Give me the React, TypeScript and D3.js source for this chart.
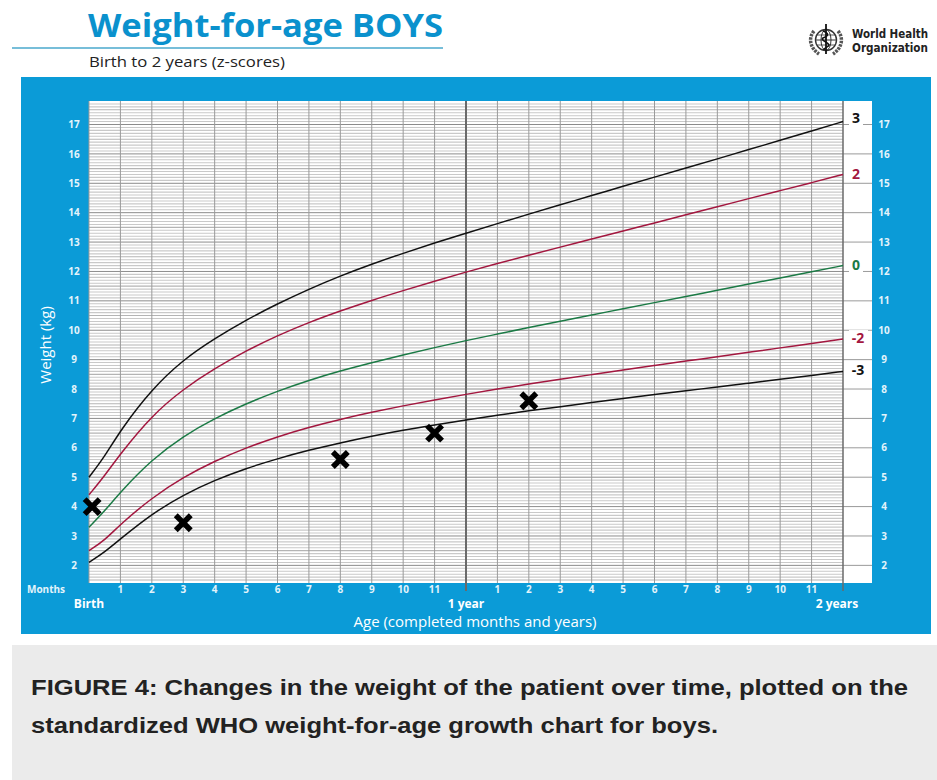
import React from 'react';
import * as d3 from 'd3';

// WHO weight-for-age, boys, birth to 2 years (kg)
const ages = [0, 0.5, 1, 2, 3, 4, 5, 6, 7, 8, 9, 10, 11, 12, 13, 14, 15, 16, 17, 18, 19, 20, 21, 22, 23, 24];
const zNeg3 = [2.1, 2.45, 2.9, 3.75, 4.4, 4.9, 5.3, 5.63, 5.92, 6.17, 6.4, 6.6, 6.78, 6.95, 7.11, 7.26, 7.4, 7.54, 7.68, 7.81, 7.94, 8.07, 8.2, 8.33, 8.46, 8.6];
const zNeg2 = [2.5, 2.85, 3.4, 4.3, 5.0, 5.55, 6.0, 6.38, 6.7, 6.97, 7.21, 7.43, 7.63, 7.82, 8.0, 8.17, 8.33, 8.49, 8.65, 8.8, 8.95, 9.1, 9.25, 9.4, 9.55, 9.7];
const zZero = [3.3, 3.85, 4.5, 5.6, 6.4, 7.0, 7.5, 7.93, 8.3, 8.62, 8.9, 9.16, 9.41, 9.65, 9.87, 10.09, 10.31, 10.52, 10.73, 10.94, 11.15, 11.36, 11.57, 11.78, 11.99, 12.2];
const zPos2 = [4.4, 5.05, 5.8, 7.1, 8.0, 8.7, 9.3, 9.82, 10.27, 10.66, 11.02, 11.35, 11.67, 11.98, 12.27, 12.55, 12.83, 13.1, 13.38, 13.65, 13.93, 14.2, 14.48, 14.75, 15.02, 15.3];
const zPos3 = [5.0, 5.7, 6.6, 8.0, 9.0, 9.72, 10.35, 10.9, 11.4, 11.85, 12.25, 12.62, 12.97, 13.3, 13.63, 13.95, 14.27, 14.58, 14.9, 15.21, 15.52, 15.83, 16.15, 16.46, 16.78, 17.1];

// patient measurements
const patientMonths = [0.1, 3, 8, 11, 14];
const patientWeights = [4.0, 3.45, 5.6, 6.5, 7.6];

const weightTicks = [2, 3, 4, 5, 6, 7, 8, 9, 10, 11, 12, 13, 14, 15, 16, 17];
const monthTicks = [1, 2, 3, 4, 5, 6, 7, 8, 9, 10, 11];

const BLUE = '#0b9bd7';
const RED = '#a3173f';
const GREEN = '#1b7a45';
const FONT = "'Open Sans', 'Noto Sans', sans-serif";

const curves = [
  { label: '3', values: zPos3, color: '#111' },
  { label: '2', values: zPos2, color: RED },
  { label: '0', values: zZero, color: GREEN },
  { label: '-2', values: zNeg2, color: RED },
  { label: '-3', values: zNeg3, color: '#111' },
];

export default function App() {
  const left = 89, right = 843, top = 101, bottom = 583;
  const labelRight = 872;

  const x = d3.scaleLinear().domain([0, 24]).range([left, right]);
  const y = d3.scaleLinear().domain([1.4, 17.8]).range([bottom, top]);

  const line = d3.line<number>()
    .x((_, i) => x(ages[i]))
    .y(d => y(d))
    .curve(d3.curveBasis);

  const minor = d3.range(15, 178).map(v => v / 10).filter(v => v > 1.4 && v < 17.8);
  const months = d3.range(0, 25);

  const cross = (cx: number, cy: number, i: number) => {
    const s = 7.5;
    return (
      <g key={i} stroke="#000" strokeWidth={5.5}>
        <line x1={cx - s} y1={cy - s} x2={cx + s} y2={cy + s} />
        <line x1={cx - s} y1={cy + s} x2={cx + s} y2={cy - s} />
      </g>
    );
  };

  return (
    <svg width={937} height={780} style={{ position: 'absolute', left: 0, top: 0, display: 'block', background: '#fff' }}>
      {/* header */}
      <text x={88} y={37} fontFamily={FONT} fontWeight={700} fontSize={33} fill="#0a91cd"
        textLength={355} lengthAdjust="spacingAndGlyphs">Weight-for-age BOYS</text>
      <line x1={12} x2={443} y1={48} y2={48} stroke="#4aa8cc" strokeWidth={1.5} />
      <text x={89} y={67} fontFamily={FONT} fontSize={15} fill="#222"
        textLength={196} lengthAdjust="spacingAndGlyphs">Birth to 2 years (z-scores)</text>

      {/* WHO logo */}
      <g transform="translate(826,40)" stroke="#333" fill="none">
        <circle r={10.5} strokeWidth={1.4} />
        <ellipse rx={5} ry={10.5} strokeWidth={1} />
        <line x1={-10.5} x2={10.5} y1={0} y2={0} strokeWidth={1} />
        <line x1={-9} x2={9} y1={-5} y2={-5} strokeWidth={0.8} />
        <line x1={-9} x2={9} y1={5} y2={5} strokeWidth={0.8} />
        <line x1={0} x2={0} y1={-16} y2={14} strokeWidth={1.8} stroke="#111" />
        <path d="M-3,-9 C3,-7 3,-4 -3,-2 C-6,0 3,3 3,5 C3,7 -3,8 -2,10" strokeWidth={1.6} stroke="#111" />
        <path d="M-12,-9 C-18,-2 -16,8 -7,14" strokeWidth={3.5} stroke="#555" strokeDasharray="2.5,1" />
        <path d="M12,-9 C18,-2 16,8 7,14" strokeWidth={3.5} stroke="#555" strokeDasharray="2.5,1" />
      </g>
      <text x={852} y={37.5} fontFamily="'DejaVu Sans Condensed', 'DejaVu Sans', sans-serif" fontWeight={700} fontSize={12} fill="#222"
        textLength={76} lengthAdjust="spacingAndGlyphs">World Health</text>
      <text x={852} y={52} fontFamily="'DejaVu Sans Condensed', 'DejaVu Sans', sans-serif" fontWeight={700} fontSize={12} fill="#222"
        textLength={76} lengthAdjust="spacingAndGlyphs">Organization</text>

      {/* blue panel */}
      <rect x={21} y={77} width={910} height={557} fill={BLUE} />
      <rect x={left} y={top} width={labelRight - left} height={bottom - top} fill="#fff" />

      {/* horizontal grid */}
      {minor.map(v => {
        const isKg = Math.abs(v - Math.round(v)) < 1e-6;
        const isHalf = Math.abs(v * 2 - Math.round(v * 2)) < 1e-6;
        return (
          <line key={'h' + v} x1={left} x2={right} y1={y(v)} y2={y(v)}
            stroke={isKg ? '#8c8c8c' : isHalf ? '#b4b4b4' : '#c9c9c9'} strokeWidth={isKg ? 1 : 1.1} />
        );
      })}
      {weightTicks.map(v => (
        <line key={'r' + v} x1={right} x2={labelRight} y1={y(v)} y2={y(v)} stroke="#9a9a9a" strokeWidth={1} />
      ))}

      {/* vertical grid */}
      {months.map(m => (
        <line key={'v' + m} x1={x(m)} x2={x(m)} y1={top} y2={m === 12 || m === 24 ? bottom + 8 : bottom}
          stroke={m === 12 || m === 24 ? '#6a6a6a' : '#9a9a9a'} strokeWidth={m === 12 ? 2 : m === 24 ? 1.5 : 1} />
      ))}

      {/* z-score curves */}
      {curves.map(c => (
        <path key={c.label} d={line(c.values) || ''} fill="none" stroke={c.color} strokeWidth={1.5} />
      ))}

      {/* curve labels */}
      {curves.map(c => {
        const ly = y(c.values[c.values.length - 1]) - (c.label === '3' ? 4 : 1);
        return (
          <g key={'l' + c.label}>
            <rect x={849} y={ly - 8} width={c.label.length > 1 ? 19 : 14} height={16} fill="#fff" />
            <text x={c.label.length > 1 ? 858 : 856} y={ly} dy="0.36em" textAnchor="middle" fontFamily={FONT}
              fontWeight={700} fontSize={14} fill={c.color}>{c.label}</text>
          </g>
        );
      })}

      {/* y tick labels */}
      {weightTicks.map(v => (
        <g key={'t' + v} fontFamily={FONT} fontWeight={700} fontSize={10} fill="#e3f4fb" textAnchor="middle">
          <text x={74} y={y(v)} dy="0.36em">{v}</text>
          <text x={884} y={y(v)} dy="0.36em">{v}</text>
        </g>
      ))}

      {/* x tick labels */}
      <text x={27} y={593} fontFamily={FONT} fontWeight={700} fontSize={10} fill="#e3f4fb">Months</text>
      {monthTicks.map(m => (
        <g key={'m' + m} fontFamily={FONT} fontWeight={700} fontSize={10} fill="#e3f4fb" textAnchor="middle">
          <text x={x(m)} y={593}>{m}</text>
          <text x={x(m + 12)} y={593}>{m}</text>
        </g>
      ))}
      <g fontFamily={FONT} fontWeight={700} fontSize={12} fill="#fff" textAnchor="middle">
        <text x={x(0)} y={608}>Birth</text>
        <text x={x(12)} y={608}>1 year</text>
        <text x={x(24) - 6} y={608}>2 years</text>
      </g>
      <text x={475} y={627} textAnchor="middle" fontFamily={FONT} fontSize={15} fill="#fff">
        Age (completed months and years)
      </text>
      <text transform={`translate(51,${y(9.5)}) rotate(-90)`} textAnchor="middle" fontFamily={FONT}
        fontSize={15} fill="#fff">Weight (kg)</text>

      {/* patient points */}
      {patientMonths.map((m, i) => cross(x(m), y(patientWeights[i]), i))}

      {/* caption */}
      <rect x={12} y={645} width={925} height={135} fill="#ebebeb" />
      <text x={31} y={695} fontFamily="'Liberation Sans', Arial, sans-serif" fontWeight={700} fontSize={22} fill="#222"
        textLength={877} lengthAdjust="spacingAndGlyphs">
        FIGURE 4: Changes in the weight of the patient over time, plotted on the
      </text>
      <text x={31} y={733} fontFamily="'Liberation Sans', Arial, sans-serif" fontWeight={700} fontSize={22} fill="#222"
        textLength={687} lengthAdjust="spacingAndGlyphs">
        standardized WHO weight-for-age growth chart for boys.
      </text>
    </svg>
  );
}
